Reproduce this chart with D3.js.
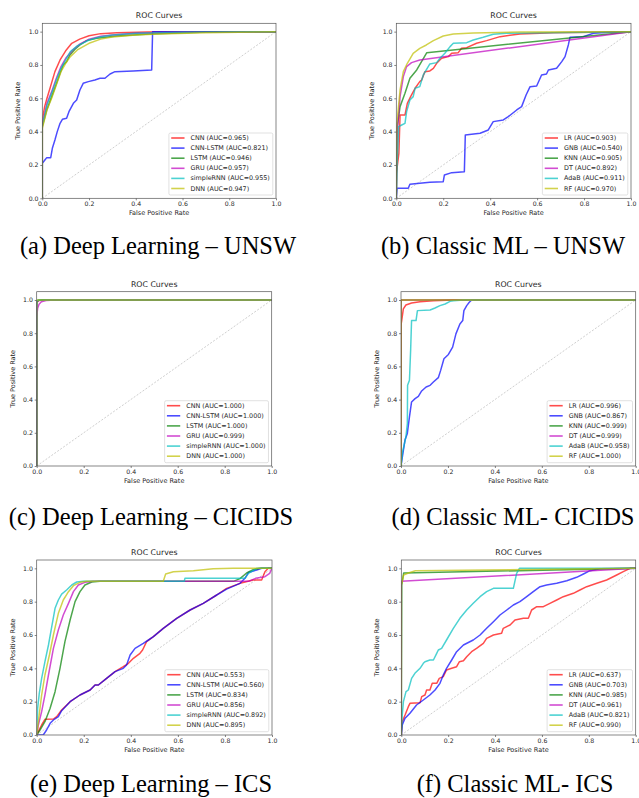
<!DOCTYPE html>
<html>
<head>
<meta charset="utf-8">
<script src="https://cdn.jsdelivr.net/npm/d3@7.9.0/dist/d3.min.js"></script>
<style>
  body { margin: 0; background: #fff; }
  svg text { font-family: "DejaVu Sans", sans-serif; fill: #262626; }
  svg text.cap { font-family: "Liberation Serif", "Times New Roman", serif; fill: #000; }
</style>
</head>
<body>
<svg id="fig" width="639" height="798"></svg>
<script>
// model names
const dlModels = ["CNN", "CNN-LSTM", "LSTM", "GRU", "simpleRNN", "DNN"];
const mlModels = ["LR", "GNB", "KNN", "DT", "AdaB", "RF"];

// AUC values from legends
const aucUnswDL = [0.965, 0.821, 0.946, 0.957, 0.955, 0.947];
const aucUnswML = [0.903, 0.540, 0.905, 0.892, 0.911, 0.970];
const aucCicDL = [1.000, 1.000, 1.000, 0.999, 1.000, 1.000];
const aucCicML = [0.996, 0.867, 0.999, 0.999, 0.958, 1.000];
const aucIcsDL = [0.553, 0.560, 0.834, 0.856, 0.892, 0.895];
const aucIcsML = [0.637, 0.703, 0.985, 0.961, 0.821, 0.990];

// ROC points [fpr, tpr]
const rocUnswDL = [
  [[0,0],[0,0.47],[0.01,0.55],[0.02,0.6],[0.033,0.66],[0.054,0.76],[0.076,0.83],[0.1,0.885],[0.126,0.93],[0.16,0.955],[0.2,0.975],[0.25,0.988],[0.32,0.994],[0.45,0.998],[0.6,1],[1,1]],
  [[0,0],[0,0.21],[0.011,0.23],[0.019,0.244],[0.036,0.244],[0.043,0.3],[0.054,0.35],[0.064,0.4],[0.076,0.45],[0.086,0.474],[0.104,0.48],[0.114,0.52],[0.133,0.57],[0.147,0.59],[0.161,0.65],[0.175,0.69],[0.197,0.7],[0.225,0.71],[0.247,0.72],[0.268,0.72],[0.29,0.746],[0.311,0.76],[0.389,0.764],[0.468,0.77],[0.472,1],[1,1]],
  [[0,0],[0,0.43],[0.019,0.53],[0.04,0.61],[0.061,0.69],[0.076,0.75],[0.09,0.8],[0.104,0.82],[0.118,0.86],[0.14,0.894],[0.161,0.92],[0.19,0.946],[0.233,0.96],[0.318,0.974],[0.46,0.986],[0.675,0.996],[1,1]],
  [[0,0],[0,0.44],[0.02,0.57],[0.04,0.64],[0.06,0.72],[0.08,0.79],[0.1,0.84],[0.13,0.89],[0.16,0.925],[0.2,0.955],[0.25,0.972],[0.3,0.98],[0.4,0.99],[0.6,0.997],[1,1]],
  [[0,0],[0,0.44],[0.02,0.56],[0.04,0.63],[0.06,0.71],[0.08,0.78],[0.1,0.83],[0.12,0.88],[0.15,0.915],[0.2,0.95],[0.25,0.97],[0.3,0.98],[0.4,0.99],[0.6,0.997],[1,1]],
  [[0,0],[0,0.42],[0.02,0.53],[0.04,0.6],[0.06,0.68],[0.08,0.76],[0.1,0.81],[0.12,0.85],[0.15,0.89],[0.2,0.93],[0.25,0.955],[0.3,0.968],[0.4,0.98],[0.5,0.986],[0.7,0.993],[1,1]]
];
const rocUnswML = [
  [[0,0],[0,0.15],[0.004,0.19],[0.011,0.27],[0.016,0.5],[0.037,0.5],[0.047,0.57],[0.061,0.61],[0.08,0.66],[0.1,0.7],[0.108,0.71],[0.122,0.76],[0.143,0.764],[0.158,0.78],[0.172,0.81],[0.193,0.84],[0.222,0.85],[0.236,0.87],[0.264,0.874],[0.278,0.9],[0.3,0.904],[0.342,0.93],[0.385,0.946],[0.442,0.97],[0.527,0.986],[0.669,0.994],[1,1]],
  [[0,0],[0.003,0.06],[0.051,0.06],[0.058,0.084],[0.1,0.09],[0.143,0.096],[0.2,0.1],[0.205,0.14],[0.236,0.154],[0.29,0.16],[0.294,0.38],[0.357,0.39],[0.392,0.41],[0.413,0.46],[0.456,0.47],[0.477,0.49],[0.513,0.53],[0.534,0.55],[0.553,0.62],[0.57,0.67],[0.598,0.674],[0.619,0.74],[0.64,0.746],[0.648,0.77],[0.683,0.78],[0.705,0.82],[0.719,0.85],[0.733,0.92],[0.74,0.966],[0.797,0.97],[0.84,0.99],[0.91,0.996],[1,1]],
  [[0,0],[0.004,0.43],[0.016,0.55],[0.037,0.63],[0.058,0.72],[0.087,0.77],[0.13,0.874],[1,1]],
  [[0,0],[0.006,0.43],[0.016,0.61],[0.03,0.73],[0.044,0.79],[0.065,0.814],[0.1,0.83],[1,1]],
  [[0,0],[0.003,0.19],[0.01,0.43],[0.023,0.44],[0.037,0.45],[0.044,0.52],[0.058,0.59],[0.072,0.61],[0.08,0.66],[0.1,0.67],[0.115,0.74],[0.143,0.806],[0.172,0.814],[0.186,0.84],[0.207,0.87],[0.229,0.91],[0.243,0.93],[0.3,0.934],[0.328,0.95],[0.37,0.966],[0.413,0.984],[0.47,0.99],[1,1]],
  [[0,0],[0.002,0.45],[0.008,0.53],[0.016,0.65],[0.03,0.76],[0.047,0.81],[0.072,0.87],[0.1,0.9],[0.128,0.92],[0.158,0.946],[0.2,0.974],[0.243,0.986],[0.328,0.992],[0.527,0.998],[1,1]]
];
const rocCicDL = [
  [[0,0],[0,0.985],[0.01,0.997],[0.03,1],[1,1]],
  [[0,0],[0,0.99],[0.008,0.998],[0.02,1],[1,1]],
  [[0,0],[0,0.99],[0.005,0.998],[0.015,1],[1,1]],
  [[0,0],[0,0.9],[0.004,0.95],[0.01,0.975],[0.02,0.99],[0.04,0.997],[0.08,1],[1,1]],
  [[0,0],[0,0.995],[0.01,1],[1,1]],
  [[0,0],[0,0.998],[0.005,1],[1,1]]
];
const rocCicML = [
  [[0,0],[0,0.85],[0.003,0.876],[0.01,0.946],[0.021,0.97],[0.045,0.982],[0.081,0.99],[0.138,0.996],[0.223,1],[1,1]],
  [[0,0],[0.007,0.066],[0.017,0.156],[0.027,0.196],[0.036,0.296],[0.045,0.386],[0.06,0.406],[0.074,0.42],[0.088,0.452],[0.107,0.476],[0.124,0.486],[0.138,0.506],[0.159,0.532],[0.169,0.576],[0.183,0.646],[0.202,0.672],[0.22,0.716],[0.234,0.796],[0.251,0.856],[0.263,0.876],[0.268,0.936],[0.28,0.966],[0.291,0.986],[0.301,1],[1,1]],
  [[0,0],[0,0.998],[0.002,1],[1,1]],
  [[0,0],[0,0.998],[0.002,1],[1,1]],
  [[0,0],[0.007,0.086],[0.021,0.176],[0.027,0.256],[0.028,0.486],[0.036,0.516],[0.041,0.696],[0.045,0.876],[0.064,0.876],[0.07,0.936],[0.124,0.94],[0.145,0.952],[0.166,0.966],[0.188,0.976],[0.209,0.992],[0.223,0.996],[0.266,1],[1,1]],
  [[0,0],[0,1],[1,1]]
];
const rocIcsDL = [
  [[0,0],[0.007,0.02],[0.021,0.06],[0.035,0.094],[0.071,0.096],[0.085,0.11],[0.106,0.15],[0.142,0.2],[0.184,0.24],[0.227,0.27],[0.248,0.3],[0.262,0.3],[0.297,0.34],[0.333,0.38],[0.368,0.41],[0.39,0.43],[0.411,0.46],[0.439,0.49],[0.45,0.51],[0.467,0.56],[0.496,0.59],[0.538,0.64],[0.595,0.7],[0.652,0.75],[0.708,0.79],[0.765,0.84],[0.807,0.88],[0.864,0.91],[0.92,0.93],[0.956,0.93],[0.97,0.98],[0.984,1],[1,1]],
  [[0,0],[0.028,0],[0.042,0.03],[0.057,0.07],[0.071,0.09],[0.092,0.11],[0.106,0.146],[0.142,0.2],[0.184,0.24],[0.227,0.27],[0.248,0.3],[0.262,0.3],[0.297,0.34],[0.333,0.38],[0.368,0.4],[0.382,0.42],[0.397,0.48],[0.418,0.52],[0.453,0.55],[0.475,0.57],[0.496,0.59],[0.538,0.64],[0.595,0.7],[0.652,0.75],[0.708,0.79],[0.765,0.84],[0.807,0.875],[0.864,0.91],[0.885,0.94],[0.9,0.975],[0.935,0.99],[0.956,1],[1,1]],
  [[0,0],[0.014,0.03],[0.035,0.08],[0.057,0.16],[0.078,0.26],[0.099,0.4],[0.12,0.56],[0.142,0.69],[0.163,0.8],[0.184,0.86],[0.205,0.9],[0.234,0.918],[0.269,0.922],[0.836,0.922],[0.864,0.938],[0.892,0.972],[0.92,0.992],[0.949,1],[1,1]],
  [[0,0],[0.007,0.06],[0.021,0.14],[0.035,0.24],[0.05,0.36],[0.071,0.52],[0.092,0.63],[0.113,0.72],[0.135,0.79],[0.156,0.86],[0.177,0.9],[0.205,0.916],[0.24,0.922],[0.9,0.922],[0.93,0.94],[0.97,0.95],[0.99,0.97],[1,1]],
  [[0,0],[0.004,0.16],[0.011,0.25],[0.021,0.34],[0.035,0.44],[0.05,0.54],[0.064,0.65],[0.078,0.76],[0.092,0.81],[0.106,0.845],[0.127,0.87],[0.149,0.9],[0.17,0.918],[0.198,0.922],[0.627,0.922],[0.63,0.94],[0.885,0.94],[0.9,0.97],[0.935,1],[1,1]],
  [[0,0],[0.007,0.08],[0.021,0.24],[0.035,0.36],[0.054,0.48],[0.071,0.6],[0.092,0.73],[0.113,0.81],[0.135,0.86],[0.156,0.896],[0.184,0.916],[0.212,0.922],[0.538,0.922],[0.548,0.966],[0.581,0.98],[0.666,0.986],[0.75,0.998],[0.836,1],[1,1]]
];
const rocIcsML = [
  [[0,0],[0.004,0.08],[0.016,0.12],[0.03,0.17],[0.037,0.19],[0.08,0.194],[0.087,0.23],[0.101,0.24],[0.108,0.27],[0.122,0.27],[0.132,0.31],[0.151,0.31],[0.162,0.34],[0.179,0.35],[0.193,0.39],[0.215,0.4],[0.236,0.41],[0.248,0.44],[0.265,0.445],[0.279,0.47],[0.3,0.5],[0.321,0.52],[0.35,0.55],[0.364,0.58],[0.393,0.6],[0.428,0.61],[0.435,0.64],[0.464,0.66],[0.485,0.69],[0.521,0.7],[0.542,0.7],[0.556,0.75],[0.578,0.77],[0.606,0.77],[0.634,0.79],[0.663,0.81],[0.691,0.83],[0.734,0.85],[0.762,0.87],[0.791,0.89],[0.834,0.91],[0.876,0.93],[0.919,0.96],[0.947,0.98],[0.976,1],[1,1]],
  [[0,0],[0.004,0.06],[0.016,0.1],[0.037,0.13],[0.065,0.18],[0.094,0.21],[0.122,0.24],[0.144,0.27],[0.165,0.31],[0.179,0.36],[0.193,0.4],[0.215,0.45],[0.236,0.5],[0.265,0.54],[0.307,0.57],[0.336,0.6],[0.364,0.64],[0.393,0.68],[0.421,0.72],[0.45,0.75],[0.478,0.78],[0.506,0.8],[0.535,0.83],[0.563,0.86],[0.592,0.89],[0.62,0.9],[0.663,0.91],[0.706,0.926],[0.748,0.946],[0.777,0.966],[0.805,0.986],[0.848,0.998],[1,1]],
  [[0,0],[0.002,0.9],[0.01,0.972],[1,1]],
  [[0,0],[0,0.922],[1,1]],
  [[0,0],[0.004,0.12],[0.009,0.2],[0.02,0.26],[0.03,0.27],[0.044,0.34],[0.058,0.37],[0.08,0.4],[0.094,0.43],[0.101,0.44],[0.122,0.45],[0.137,0.45],[0.151,0.49],[0.158,0.51],[0.172,0.52],[0.193,0.57],[0.222,0.64],[0.25,0.7],[0.279,0.75],[0.307,0.79],[0.336,0.83],[0.364,0.86],[0.393,0.88],[0.478,0.88],[0.492,0.97],[0.504,1],[1,1]],
  [[0,0],[0,0.9],[0.01,0.96],[0.03,0.972],[0.06,0.985],[1,1]]
];

const xTicks = [0, 0.2, 0.4, 0.6, 0.8, 1.0];
const yTicks = [0, 0.2, 0.4, 0.6, 0.8, 1.0];
const captions = ["(a) Deep Learning – UNSW", "(b) Classic ML – UNSW",
                  "(c) Deep Learning – CICIDS", "(d) Classic ML- CICIDS",
                  "(e) Deep Learning – ICS", "(f) Classic ML- ICS"];

// matplotlib r, b, g, m, c, y
const colors = ["#ff0000", "#0000ff", "#008000", "#bf00bf", "#00bfbf", "#bfbf00"];

const panels = [
  { models: dlModels, auc: aucUnswDL, roc: rocUnswDL },
  { models: mlModels, auc: aucUnswML, roc: rocUnswML },
  { models: dlModels, auc: aucCicDL, roc: rocCicDL },
  { models: mlModels, auc: aucCicML, roc: rocCicML },
  { models: dlModels, auc: aucIcsDL, roc: rocIcsDL },
  { models: mlModels, auc: aucIcsML, roc: rocIcsML }
];

// axes boxes in page pixels
const boxes = [
  { x: 42.3, y: 23.3, w: 233.7, h: 175 },
  { x: 396.3, y: 23.3, w: 234.7, h: 175 },
  { x: 36.7, y: 291.7, w: 235, h: 174.3 },
  { x: 401, y: 291.7, w: 234.7, h: 174.3 },
  { x: 36.7, y: 560, w: 235.3, h: 175 },
  { x: 401.3, y: 560, w: 234.4, h: 175 }
];
const capX = [158, 503, 151, 513, 151, 515];
const capY = [254, 525, 792];

const svg = d3.select("#fig");
const defs = svg.append("defs");

panels.forEach((p, pi) => {
  const b = boxes[pi];
  const g = svg.append("g").attr("transform", `translate(${b.x},${b.y})`);
  const x = d3.scaleLinear().domain([0, 1]).range([0, b.w]);
  const y = d3.scaleLinear().domain([0, 1.05]).range([b.h, 0]);

  defs.append("clipPath").attr("id", "clip" + pi)
    .append("rect").attr("width", b.w).attr("height", b.h);

  const plot = g.append("g").attr("clip-path", `url(#clip${pi})`);

  // chance line
  plot.append("line")
    .attr("x1", x(0)).attr("y1", y(0)).attr("x2", x(1)).attr("y2", y(1))
    .attr("stroke", "#9a9a9a").attr("stroke-width", 0.6)
    .attr("stroke-dasharray", "2,1.6").attr("opacity", 0.8);

  const line = d3.line().x(d => x(d[0])).y(d => y(d[1]));
  plot.selectAll(".roc")
    .data(p.roc)
    .join("path")
    .attr("class", "roc")
    .attr("d", line)
    .attr("fill", "none")
    .attr("stroke", (d, i) => colors[i])
    .attr("stroke-opacity", 0.7)
    .attr("stroke-width", 1.5)
    .attr("stroke-linejoin", "round");

  // axes
  const xAxis = g.append("g").attr("transform", `translate(0,${b.h})`)
    .call(d3.axisBottom(x).tickValues(xTicks).tickSize(2).tickPadding(1.5).tickFormat(d3.format(".1f")));
  const yAxis = g.append("g")
    .call(d3.axisLeft(y).tickValues(yTicks).tickSize(2).tickPadding(1.8).tickFormat(d3.format(".1f")));
  [xAxis, yAxis].forEach(a => {
    a.select(".domain").remove();
    a.selectAll(".tick line").attr("stroke", "#333").attr("stroke-width", 0.6);
    a.selectAll(".tick text").attr("font-size", 6.2).attr("fill", "#333")
      .style("font-family", "'DejaVu Sans', sans-serif");
  });

  g.append("rect").attr("width", b.w).attr("height", b.h)
    .attr("fill", "none").attr("stroke", "#555").attr("stroke-width", 0.7);

  g.append("text").attr("x", b.w / 2).attr("y", -5)
    .attr("text-anchor", "middle").attr("font-size", 7.8).text("ROC Curves");
  g.append("text").attr("x", b.w / 2).attr("y", b.h + 17)
    .attr("text-anchor", "middle").attr("font-size", 6.5).text("False Positive Rate");
  g.append("text").attr("transform", `translate(-22,${b.h / 2}) rotate(-90)`)
    .attr("text-anchor", "middle").attr("font-size", 6.5).text("True Positive Rate");

  // legend
  const lg = g.append("g");
  const rowH = 10.1;
  const labels = p.models.map((m, i) => `${m} (AUC=${p.auc[i].toFixed(3)})`);
  const texts = lg.selectAll("text").data(labels).join("text")
    .attr("font-size", 6.4).attr("fill", "#262626")
    .attr("dominant-baseline", "central")
    .attr("y", (d, i) => 5 + i * rowH)
    .text(d => d);
  let maxW = 0;
  texts.each(function () { maxW = Math.max(maxW, this.getComputedTextLength()); });
  const lw = 21.6 + maxW + 3;
  const lh = 62;
  const lx = b.w - 3.2 - lw, ly = b.h - 3.3 - lh;
  lg.attr("transform", `translate(${lx},${ly})`);
  lg.insert("rect", "text").attr("width", lw).attr("height", lh)
    .attr("rx", 1.5).attr("fill", "#fff").attr("fill-opacity", 0.85)
    .attr("stroke", "#cccccc").attr("stroke-width", 0.6);
  texts.attr("x", 21.6);
  lg.selectAll("line.h").data(labels).join("line").attr("class", "h")
    .attr("x1", 2.3).attr("x2", 15.6)
    .attr("y1", (d, i) => 5 + i * rowH).attr("y2", (d, i) => 5 + i * rowH)
    .attr("stroke", (d, i) => colors[i]).attr("stroke-opacity", 0.7).attr("stroke-width", 1.6);

  svg.append("text").attr("class", "cap")
    .attr("x", capX[pi]).attr("y", capY[Math.floor(pi / 2)])
    .attr("text-anchor", "middle").attr("font-size", 24.5)
    .text(captions[pi]);
});
</script>
</body>
</html>
